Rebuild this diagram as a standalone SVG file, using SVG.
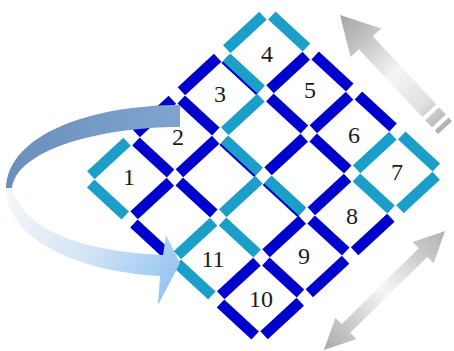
<svg xmlns="http://www.w3.org/2000/svg" width="454" height="351" viewBox="0 0 454 351">
<defs>
<style>
line{stroke-width:11;stroke-linecap:butt}
.d{stroke:#0000cd}
.l{stroke:#1b9fc9}
text{font-family:"Liberation Serif","Times New Roman",serif;font-size:24px;fill:#1a1a1a;text-anchor:middle}
</style>
<linearGradient id="gUp" gradientUnits="userSpaceOnUse" x1="6" y1="0" x2="180" y2="0">
<stop offset="0" stop-color="#6b8fbd"/><stop offset="1" stop-color="#7fa5cf"/>
</linearGradient>
<linearGradient id="gLow" gradientUnits="userSpaceOnUse" x1="15" y1="195" x2="170" y2="300">
<stop offset="0" stop-color="#f3f6fa"/><stop offset="0.5" stop-color="#d2e4f6"/><stop offset="1" stop-color="#92c2f0"/>
</linearGradient>
<linearGradient id="gStripe" gradientUnits="userSpaceOnUse" x1="0" y1="0" x2="154" y2="0">
<stop offset="0" stop-color="#a6a6a6"/><stop offset="0.18" stop-color="#bcbcbc"/><stop offset="0.52" stop-color="#f5f5f5"/><stop offset="0.78" stop-color="#e2e2e2"/><stop offset="1" stop-color="#b0b0b0"/>
</linearGradient>
<linearGradient id="gDouble" gradientUnits="userSpaceOnUse" x1="-85" y1="0" x2="85" y2="0">
<stop offset="0" stop-color="#aaaaaa"/><stop offset="0.22" stop-color="#cbcbcb"/><stop offset="0.5" stop-color="#f6f6f6"/><stop offset="0.78" stop-color="#cdcdcd"/><stop offset="1" stop-color="#b2b2b2"/>
</linearGradient>
</defs>
<rect width="454" height="351" fill="#ffffff"/>

<g id="grid-inner">
<line class="d" x1="223.13" y1="141" x2="257.77" y2="173"/>
<line class="l" x1="224.53" y1="139.5" x2="259.17" y2="171.5"/>
<line class="d" x1="266.43" y1="181" x2="301.07" y2="213"/>
<line class="l" x1="267.83" y1="179.5" x2="302.47" y2="211.5"/>
<line class="d" x1="304.27" y1="137.7" x2="268.03" y2="171.3"/>
<line class="l" x1="258.97" y1="179.7" x2="222.73" y2="213.3"/>
<line class="d" x1="179.23" y1="181.5" x2="213.87" y2="213.5"/>
<line class="d" x1="133.93" y1="223.5" x2="168.57" y2="255.5"/>
</g>

<g id="cell-4">
<line class="l" x1="271.83" y1="15.5" x2="306.47" y2="47.5"/>
<line class="l" x1="262.97" y1="15.7" x2="226.73" y2="49.3"/>
<line class="d" x1="225.13" y1="59" x2="259.77" y2="91"/>
<line class="l" x1="226.53" y1="57.5" x2="261.17" y2="89.5"/>
<line class="d" x1="306.27" y1="55.7" x2="270.03" y2="89.3"/>
<text x="267" y="62">4</text>
</g>
<g id="cell-5">
<line class="d" x1="315.13" y1="55.5" x2="349.77" y2="87.5"/>
<line class="d" x1="269.83" y1="97.5" x2="304.47" y2="129.5"/>
<line class="d" x1="349.57" y1="95.7" x2="313.33" y2="129.3"/>
<text x="310" y="98">5</text>
</g>
<g id="cell-6">
<line class="d" x1="358.43" y1="95.5" x2="393.07" y2="127.5"/>
<line class="d" x1="313.13" y1="137.5" x2="347.77" y2="169.5"/>
<line class="l" x1="392.87" y1="135.7" x2="356.63" y2="169.3"/>
<text x="354" y="143">6</text>
</g>
<g id="cell-7">
<line class="l" x1="401.73" y1="135.5" x2="436.37" y2="167.5"/>
<line class="l" x1="436.17" y1="175.7" x2="399.93" y2="209.3"/>
<line class="l" x1="356.43" y1="177.5" x2="391.07" y2="209.5"/>
<text x="397" y="180">7</text>
</g>
<g id="cell-8">
<line class="d" x1="347.57" y1="177.7" x2="311.33" y2="211.3"/>
<line class="d" x1="390.87" y1="217.7" x2="354.63" y2="251.3"/>
<line class="d" x1="311.13" y1="219.5" x2="345.77" y2="251.5"/>
<text x="352" y="224">8</text>
</g>
<g id="cell-9">
<line class="d" x1="302.27" y1="219.7" x2="266.03" y2="253.3"/>
<line class="d" x1="345.57" y1="259.7" x2="309.33" y2="293.3"/>
<line class="d" x1="265.83" y1="261.5" x2="300.47" y2="293.5"/>
<text x="304" y="264">9</text>
</g>
<g id="cell-10">
<line class="d" x1="256.97" y1="261.7" x2="220.73" y2="295.3"/>
<line class="d" x1="220.53" y1="303.5" x2="255.17" y2="335.5"/>
<line class="d" x1="300.27" y1="301.7" x2="264.03" y2="335.3"/>
<text x="261" y="307">10</text>
</g>
<g id="cell-11">
<line class="l" x1="213.67" y1="221.7" x2="177.43" y2="255.3"/>
<line class="l" x1="222.53" y1="221.5" x2="257.17" y2="253.5"/>
<line class="l" x1="177.23" y1="263.5" x2="211.87" y2="295.5"/>
<text x="213" y="267">11</text>
</g>
<g id="cell-3">
<line class="d" x1="217.67" y1="57.7" x2="181.43" y2="91.3"/>
<line class="l" x1="260.97" y1="97.7" x2="224.73" y2="131.3"/>
<line class="d" x1="181.23" y1="99.5" x2="215.87" y2="131.5"/>
<text x="220" y="102">3</text>
</g>
<g id="cell-2">
<line class="d" x1="172.37" y1="99.7" x2="136.13" y2="133.3"/>
<line class="d" x1="215.67" y1="139.7" x2="179.43" y2="173.3"/>
<line class="d" x1="135.93" y1="141.5" x2="170.57" y2="173.5"/>
<text x="178" y="145">2</text>
</g>
<g id="cell-1">
<line class="l" x1="127.07" y1="141.7" x2="90.83" y2="175.3"/>
<line class="l" x1="90.63" y1="183.5" x2="125.27" y2="215.5"/>
<line class="d" x1="170.37" y1="181.7" x2="134.13" y2="215.3"/>
<text x="129" y="185">1</text>
</g>

<g id="arrows">
<path id="curve-back" fill="url(#gUp)" d="M180,105 C90,105 6,135 6,190 L12,190 C14,150 100,127 180,127 Z"/>
<path id="curve-front" fill="url(#gLow)" d="M6,188 C6,240 80,272 160,276 L158,305 L180,263 L166,235 L163,255 C95,252 40,236 20,205 C16,199 13,194 12,188 Z"/>
<g id="striped-arrow" transform="translate(340,15) rotate(47)" fill="url(#gStripe)">
<path d="M0,0 L38,-21 L38,-9.5 L131,-9.5 L131,9.5 L38,9.5 L38,21 Z"/>
<rect x="135" y="-9.5" width="10" height="19"/>
<rect x="149" y="-9.5" width="5" height="19"/>
</g>
<g id="double-arrow" transform="translate(384.5,290.5) rotate(-44.5)">
<path fill="url(#gDouble)" d="M-85,0 L-54,-15 L-54,-6 L54,-6 L54,-15 L85,0 L54,15 L54,6 L-54,6 L-54,15 Z"/>
</g>
</g>
</svg>
